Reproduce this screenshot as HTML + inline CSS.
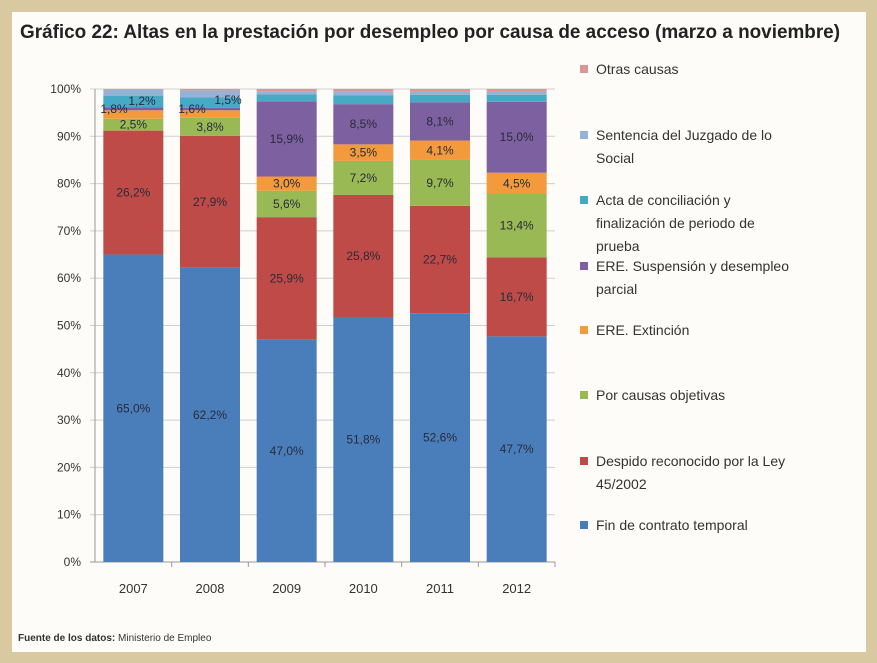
<!DOCTYPE html>
<html><head><meta charset="utf-8"><style>
body{margin:0;width:877px;height:663px;background:#d8c9a0;font-family:"Liberation Sans",sans-serif;overflow:hidden}
#panel{position:absolute;left:12px;top:12px;width:854px;height:640px;background:#fdfcf8}
</style></head><body>
<div id="panel"></div>
<svg id="c" width="877" height="663" style="position:absolute;left:0;top:0"></svg>
<script>
const years=["2007","2008","2009","2010","2011","2012"];
const fin=[65.0,62.2,47.0,51.8,52.6,47.7];
const despido=[26.2,27.9,25.9,25.8,22.7,16.7];
const objetivas=[2.5,3.8,5.6,7.2,9.7,13.4];
const extincion=[1.8,1.6,3.0,3.5,4.1,4.5];
const suspension=[0.6,0.5,15.9,8.5,8.1,15.0];
const acta=[2.5,2.2,1.5,1.9,1.6,1.5];
const sentencia=[1.2,1.5,0.6,0.7,0.6,0.6];
const otras=[0.2,0.3,0.5,0.6,0.6,0.6];
const yTicks=[0,10,20,30,40,50,60,70,80,90,100];
const series=[
 {name:"fin-contrato-temporal",vals:fin,color:"#4a7ebb",label:true},
 {name:"despido-ley-45-2002",vals:despido,color:"#be4b48",label:true},
 {name:"causas-objetivas",vals:objetivas,color:"#98b954",label:true},
 {name:"ere-extincion",vals:extincion,color:"#f39a3c",label:true},
 {name:"ere-suspension",vals:suspension,color:"#7d60a0",label:true},
 {name:"acta-conciliacion",vals:acta,color:"#46aac5",label:false},
 {name:"sentencia-juzgado",vals:sentencia,color:"#95b3d7",label:false},
 {name:"otras-causas",vals:otras,color:"#d99694",label:false}
];
const NS="http://www.w3.org/2000/svg";
const svg=document.getElementById('c');
const y0=562,y100=89,xL=95,xR=555;
const yS=v=>y0-(y0-y100)*v/100;
const band=(xR-xL)/years.length;
const xS=i=>xL+band*(i+0.5);
const bw=60;
function mk(t,a,txt){const e=document.createElementNS(NS,t);for(const k in a)e.setAttribute(k,a[k]);if(txt!==undefined)e.textContent=txt;svg.appendChild(e);return e;}
let e=mk('text',{x:20,y:38,'font-size':19,'font-weight':'bold',fill:'#222',textLength:820,lengthAdjust:'spacingAndGlyphs'},'Gráfico 22: Altas en la prestación por desempleo por causa de acceso (marzo a noviembre)');

yTicks.forEach(t=>{
 const g=mk('line',{x1:xL-5,x2:xR,y1:yS(t),y2:yS(t),stroke:t===0?'#999':'#cfcfcf','stroke-width':1});
 
 const l=mk('text',{x:xL-14,y:yS(t)+4,'font-size':12,'text-anchor':'end',fill:'#333'},t+'%');
 
});
e=mk('line',{x1:xL,x2:xL,y1:y100,y2:y0,stroke:'#999'});

years.forEach((yr,i)=>{
 let acc=0;
 series.forEach(s=>{
  const v=s.vals[i];
  const r=mk('rect',{x:xS(i)-bw/2,y:yS(acc+v),width:bw,height:yS(acc)-yS(acc+v),fill:s.color});
  
  if(s.label&&v>=2){
   const t=mk('text',{x:xS(i),y:(yS(acc)+yS(acc+v))/2+4,'font-size':12,'text-anchor':'middle',fill:'#2a2a3a'},v.toFixed(1).replace('.',',')+'%');
   
  }
  acc+=v;
 });
 const lb=mk('text',{x:xS(i),y:593,'font-size':13,'text-anchor':'middle',fill:'#333'},yr);
 
 const tk=mk('line',{x1:xL+band*(i+1),x2:xL+band*(i+1),y1:y0,y2:y0+5,stroke:'#999'});
});
[[0,"1,2%",142,105],[0,"1,8%",114,113],[1,"1,5%",228,104],[1,"1,6%",192,113]].forEach(a=>{
 const t=mk('text',{x:a[2],y:a[3],'font-size':12,'text-anchor':'middle',fill:'#2a2a3a'},a[1]);
 
});
const legend=[
 ["Otras causas"],["Sentencia del Juzgado de lo","Social"],["Acta de conciliación y","finalización de periodo de","prueba"],
 ["ERE. Suspensión y desempleo","parcial"],["ERE. Extinción"],["Por causas objetivas"],["Despido reconocido por la Ley","45/2002"],["Fin de contrato temporal"]];
const legY=[74,140,205,271,335,400,466,530];
const legC=["#d99694","#95b3d7","#46aac5","#7d60a0","#f39a3c","#98b954","#be4b48","#4a7ebb"];
legend.forEach((lines,k)=>{
 const r=mk('rect',{x:580,y:legY[k]-9,width:8,height:8,fill:legC[k]});
 
 lines.forEach((ln,j)=>{
  const t=mk('text',{x:596,y:legY[k]+j*23,'font-size':14,fill:'#333'},ln);
  
 });
});
e=mk('text',{x:18,y:641,'font-size':10,fill:'#333'});
e.innerHTML='<tspan font-weight="bold">Fuente de los datos:</tspan> Ministerio de Empleo';

</script>
</body></html>
